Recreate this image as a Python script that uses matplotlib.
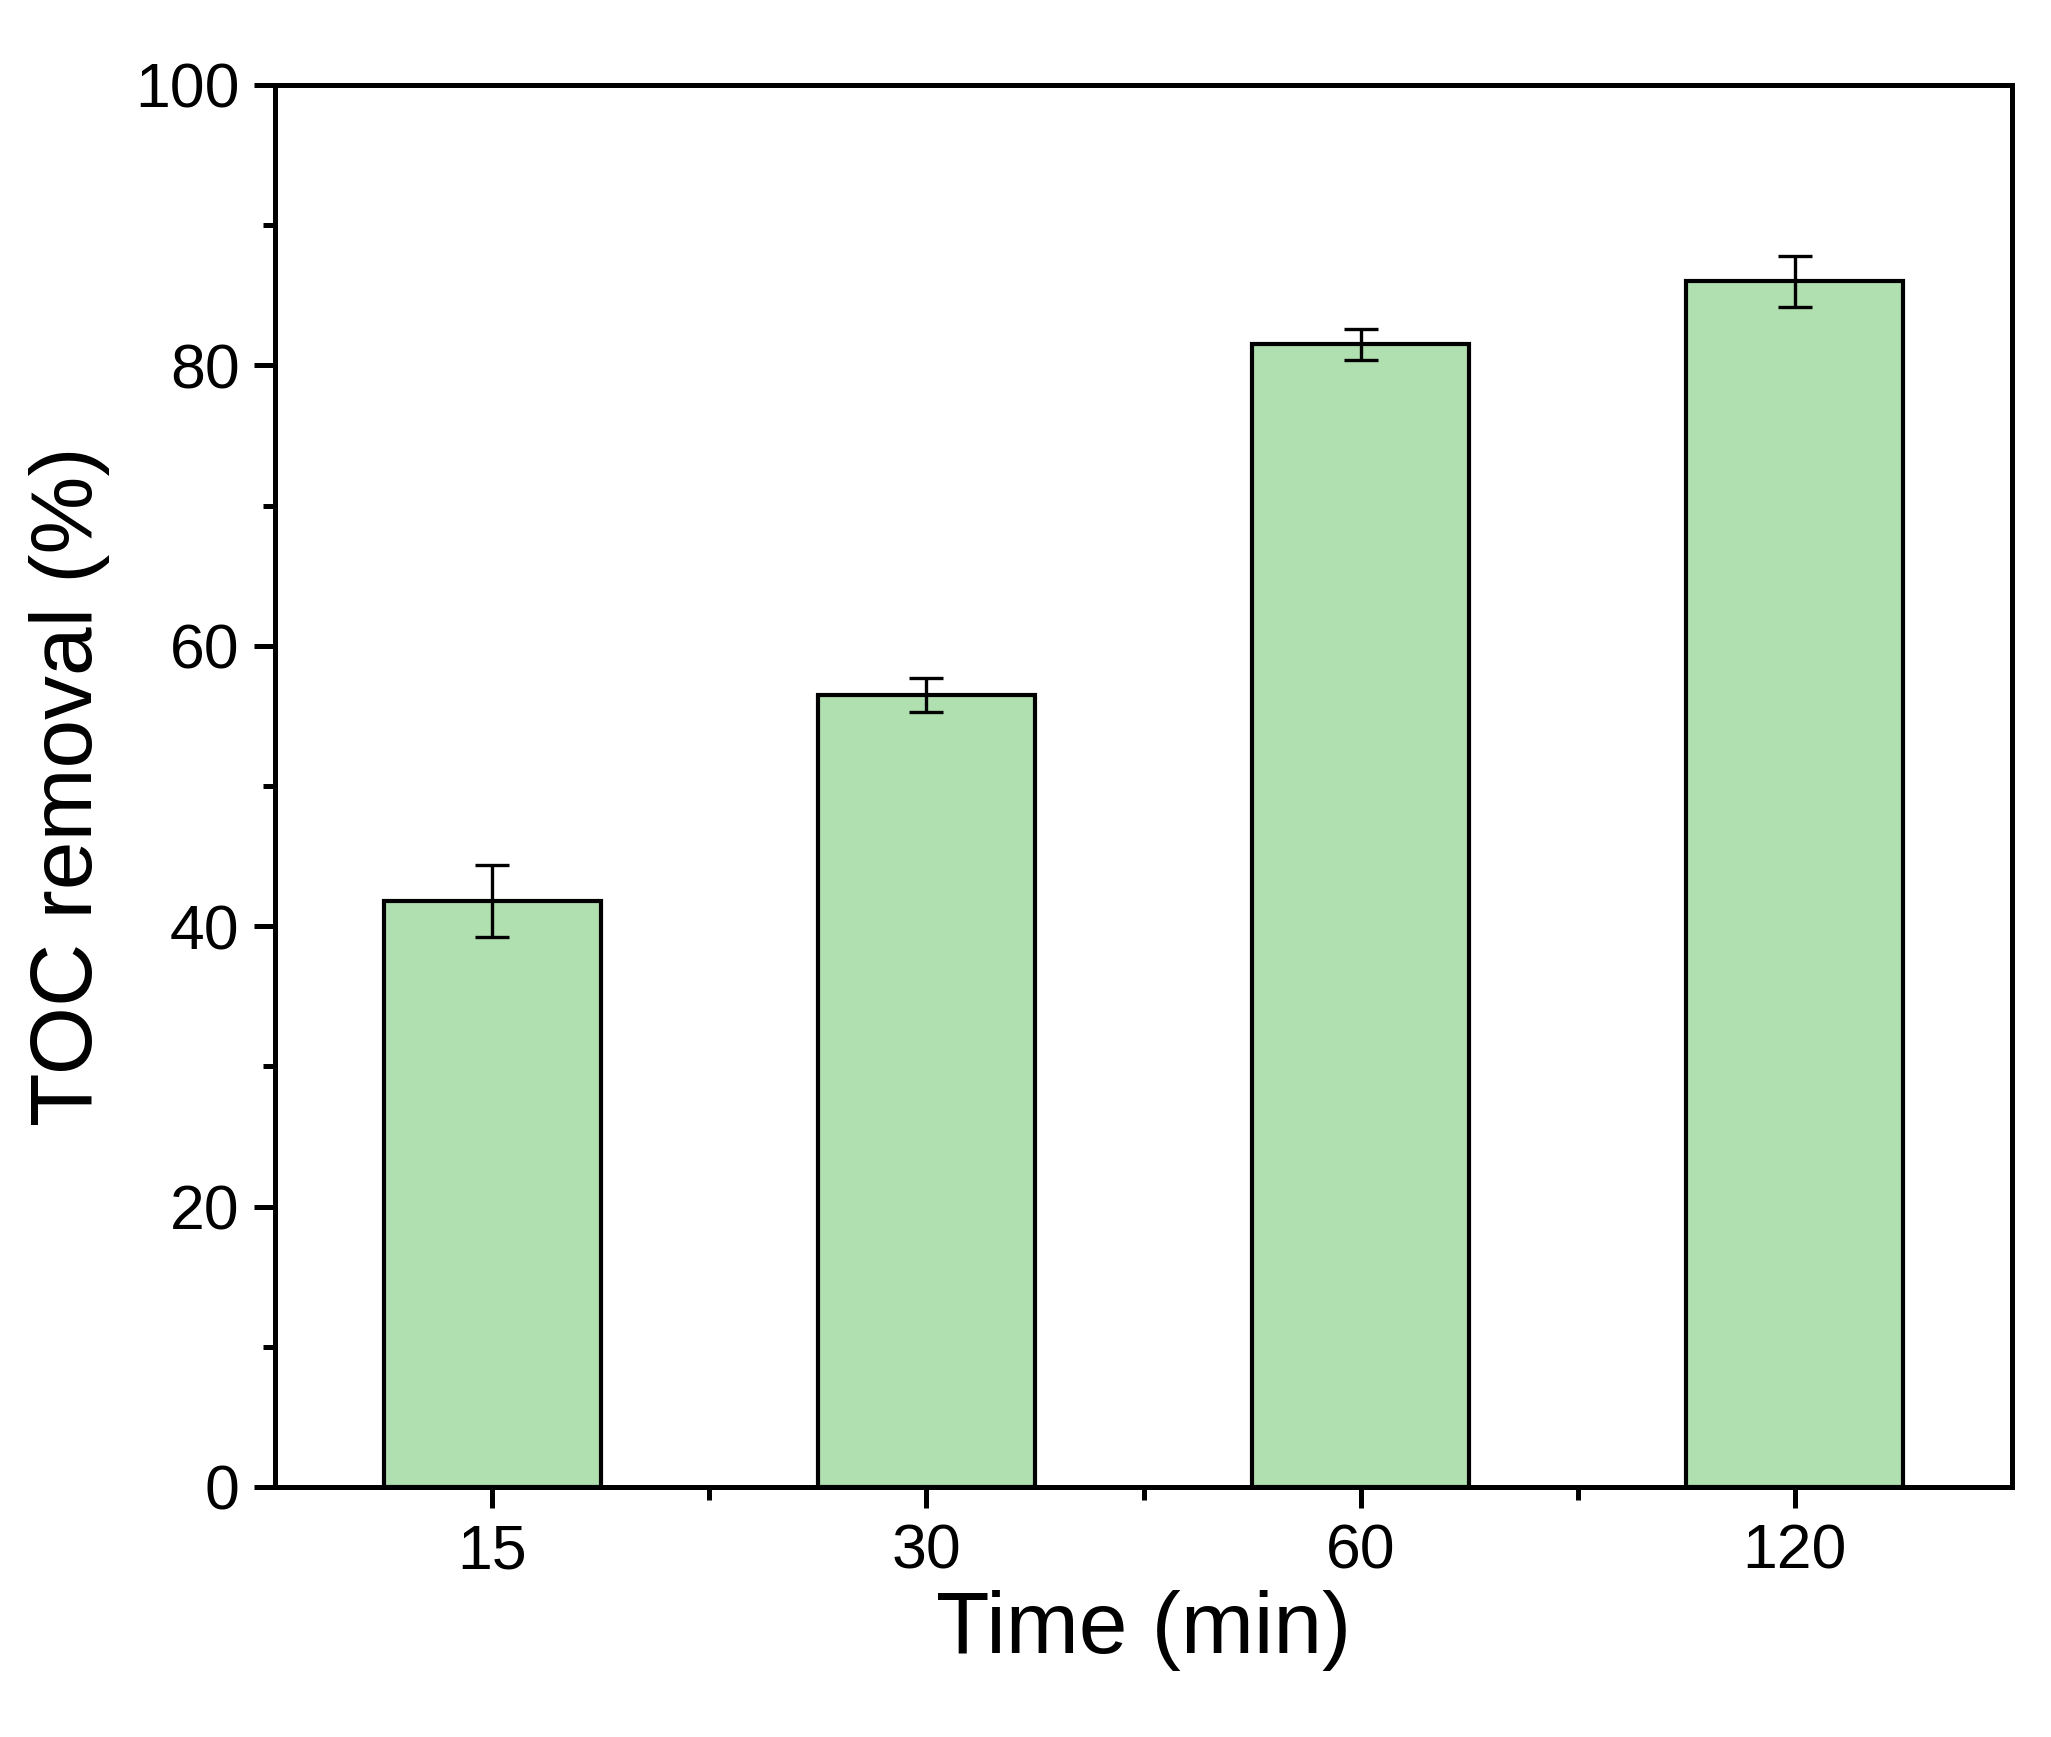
import matplotlib
matplotlib.use("Agg")
import matplotlib.pyplot as plt
from matplotlib.ticker import MultipleLocator

categories = ["15", "30", "60", "120"]
values = [41.8, 56.5, 81.5, 86.0]
errors = [2.6, 1.2, 1.1, 1.8]

plt.rcParams['font.family'] = ['Liberation Sans', 'DejaVu Sans']
fig = plt.figure(figsize=(2051/300, 1737/300), dpi=300)
ax = fig.add_axes([275/2051, 1-1487/1737, (2012-275)/2051, (1487-85)/1737])
x = list(range(1, len(categories)+1))
ax.bar(x, values, width=0.5, color='#b0dfb0', edgecolor='black', linewidth=1.0, zorder=2)
ax.errorbar(x, values, yerr=errors, fmt='none', ecolor='black', elinewidth=0.8, capsize=4, capthick=0.8, zorder=3)
ax.set_xlim(0.5, 4.5)
ax.set_ylim(0, 100)
ax.set_xticks(x)
ax.set_xticklabels(categories)
ax.set_xticks([1.5, 2.5, 3.5], minor=True)
ax.yaxis.set_major_locator(MultipleLocator(20))
ax.yaxis.set_minor_locator(MultipleLocator(10))
for s in ax.spines.values():
    s.set_linewidth(1.2)
ax.tick_params(which='major', direction='out', length=5, width=1.2, labelsize=15)
ax.tick_params(which='minor', direction='out', length=3, width=1.2)
ax.set_xlabel("Time (min)", fontsize=21, labelpad=2)
ax.set_ylabel("TOC removal (%)", fontsize=21, labelpad=6)
fig.savefig("out.png", dpi=300)
